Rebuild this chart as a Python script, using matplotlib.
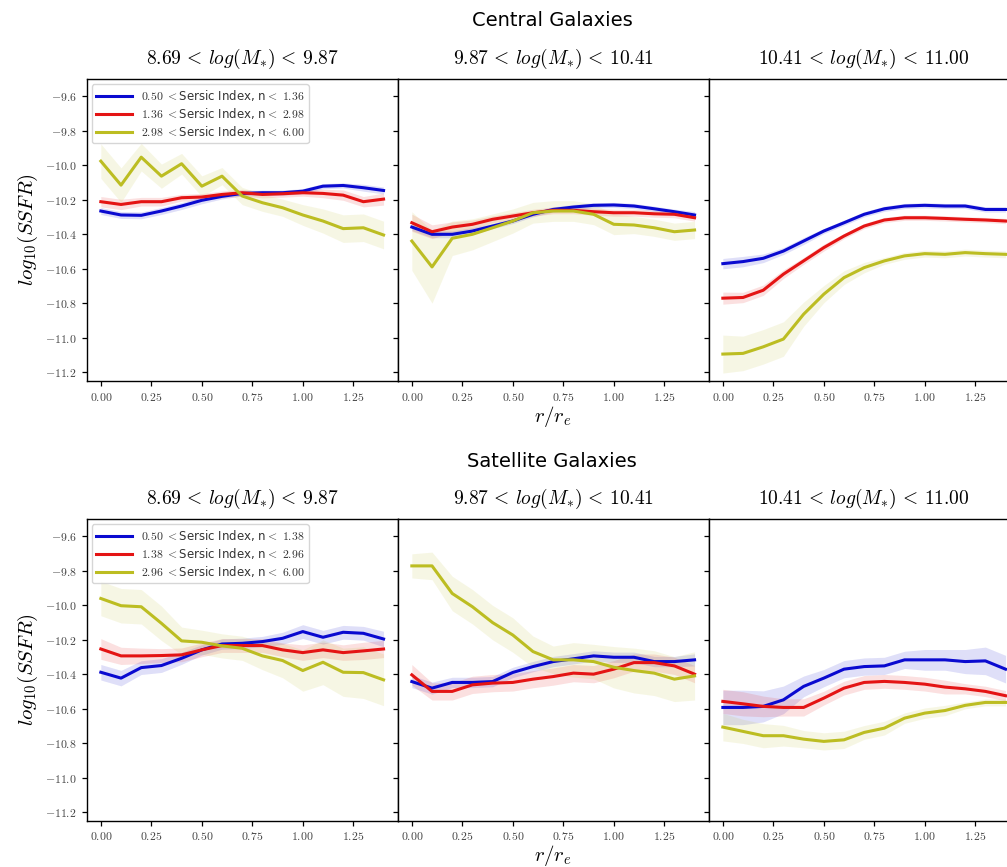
import matplotlib
matplotlib.use("Agg")
import matplotlib.pyplot as plt
from matplotlib.ticker import FuncFormatter, FixedLocator
import numpy as np

plt.rcParams['mathtext.fontset'] = 'cm'
plt.rcParams['font.family'] = ['DejaVu Sans']

# ---------------- data ----------------
r_bins = [0.0, 0.1, 0.2, 0.3, 0.4, 0.5, 0.6, 0.7, 0.8, 0.9, 1.0, 1.1, 1.2, 1.3, 1.4]

mass_titles = [r'$8.69\,<\,log(M_{*})\,<\,9.87$',
               r'$9.87\,<\,log(M_{*})\,<\,10.41$',
               r'$10.41\,<\,log(M_{*})\,<\,11.00$']
row_titles = ['Central Galaxies', 'Satellite Galaxies']

central_labels = [r'$0.50\ <$Sersic Index, n$<\ 1.36$',
                  r'$1.36\ <$Sersic Index, n$<\ 2.98$',
                  r'$2.98\ <$Sersic Index, n$<\ 6.00$']
satellite_labels = [r'$0.50\ <$Sersic Index, n$<\ 1.38$',
                    r'$1.38\ <$Sersic Index, n$<\ 2.96$',
                    r'$2.96\ <$Sersic Index, n$<\ 6.00$']

# Central, low mass
cen_low_blue = [-10.265, -10.288, -10.290, -10.265, -10.236, -10.203, -10.180, -10.163,
                -10.159, -10.159, -10.150, -10.121, -10.117, -10.130, -10.146]
cen_low_blue_err = [0.02, 0.02, 0.02, 0.02, 0.02, 0.02, 0.015, 0.015, 0.015, 0.015, 0.015, 0.015, 0.015, 0.02, 0.02]
cen_low_red = [-10.211, -10.227, -10.211, -10.211, -10.188, -10.184, -10.169, -10.159,
               -10.169, -10.165, -10.159, -10.163, -10.173, -10.211, -10.196]
cen_low_red_err = [0.03, 0.03, 0.025, 0.025, 0.02, 0.02, 0.02, 0.02, 0.02, 0.02, 0.02, 0.025, 0.03, 0.03, 0.035]
cen_low_yel = [-9.976, -10.115, -9.953, -10.063, -9.991, -10.121, -10.063, -10.178,
               -10.217, -10.246, -10.288, -10.323, -10.367, -10.362, -10.404]
cen_low_yel_err = [0.1, 0.1, 0.08, 0.07, 0.06, 0.06, 0.05, 0.05, 0.05, 0.05, 0.06, 0.07, 0.08, 0.08, 0.08]

# Central, mid mass
cen_mid_blue = [-10.358, -10.400, -10.400, -10.381, -10.352, -10.323, -10.284, -10.256,
                -10.242, -10.232, -10.230, -10.236, -10.252, -10.269, -10.288]
cen_mid_blue_err = [0.02, 0.02, 0.02, 0.02, 0.015, 0.015, 0.015, 0.015, 0.015, 0.015, 0.015, 0.015, 0.015, 0.015, 0.02]
cen_mid_red = [-10.333, -10.385, -10.358, -10.342, -10.313, -10.294, -10.275, -10.261,
               -10.261, -10.269, -10.275, -10.275, -10.281, -10.284, -10.304]
cen_mid_red_err = [0.05, 0.04, 0.03, 0.025, 0.02, 0.02, 0.02, 0.02, 0.02, 0.02, 0.02, 0.02, 0.02, 0.02, 0.02]
cen_mid_yel = [-10.439, -10.589, -10.423, -10.400, -10.362, -10.323, -10.275, -10.265,
               -10.265, -10.284, -10.342, -10.346, -10.362, -10.385, -10.375]
cen_mid_yel_err = [0.17, 0.21, 0.1, 0.09, 0.08, 0.07, 0.06, 0.06, 0.06, 0.06, 0.06, 0.05, 0.05, 0.05, 0.05]

# Central, high mass
cen_high_blue = [-10.570, -10.558, -10.539, -10.497, -10.439, -10.381, -10.333, -10.284,
                 -10.252, -10.236, -10.232, -10.236, -10.236, -10.256, -10.256]
cen_high_blue_err = [0.03, 0.03, 0.025, 0.02, 0.02, 0.015, 0.015, 0.015, 0.015, 0.015, 0.015, 0.015, 0.015, 0.015, 0.015]
cen_high_red = [-10.770, -10.766, -10.724, -10.631, -10.554, -10.477, -10.410, -10.352,
                -10.317, -10.304, -10.304, -10.308, -10.313, -10.317, -10.323]
cen_high_red_err = [0.035, 0.03, 0.03, 0.025, 0.02, 0.02, 0.015, 0.015, 0.015, 0.015, 0.015, 0.015, 0.015, 0.015, 0.015]
cen_high_yel = [-11.094, -11.090, -11.052, -11.007, -10.863, -10.747, -10.651, -10.593,
                -10.554, -10.525, -10.512, -10.516, -10.506, -10.512, -10.516]
cen_high_yel_err = [0.11, 0.1, 0.1, 0.1, 0.07, 0.05, 0.04, 0.03, 0.02, 0.02, 0.02, 0.02, 0.02, 0.02, 0.02]

# Satellite, low mass
sat_low_blue = [-10.389, -10.423, -10.362, -10.350, -10.308, -10.259, -10.225, -10.221,
                -10.211, -10.192, -10.153, -10.186, -10.157, -10.163, -10.196]
sat_low_blue_err = [0.045, 0.045, 0.04, 0.04, 0.035, 0.03, 0.03, 0.03, 0.03, 0.035, 0.04, 0.04, 0.04, 0.04, 0.045]
sat_low_red = [-10.254, -10.294, -10.294, -10.292, -10.288, -10.259, -10.234, -10.234,
               -10.234, -10.259, -10.275, -10.259, -10.275, -10.265, -10.254]
sat_low_red_err = [0.06, 0.05, 0.045, 0.04, 0.04, 0.04, 0.04, 0.04, 0.04, 0.04, 0.045, 0.045, 0.045, 0.05, 0.05]
sat_low_yel = [-9.961, -10.003, -10.009, -10.105, -10.207, -10.215, -10.236, -10.250,
               -10.294, -10.321, -10.379, -10.331, -10.389, -10.391, -10.433]
sat_low_yel_err = [0.1, 0.1, 0.1, 0.1, 0.08, 0.07, 0.07, 0.07, 0.08, 0.1, 0.12, 0.13, 0.14, 0.15, 0.15]

# Satellite, mid mass
sat_mid_blue = [-10.443, -10.481, -10.448, -10.448, -10.443, -10.390, -10.356, -10.327,
                -10.311, -10.294, -10.302, -10.302, -10.327, -10.327, -10.317]
sat_mid_blue_err = [0.035, 0.035, 0.03, 0.03, 0.03, 0.03, 0.03, 0.03, 0.03, 0.03, 0.03, 0.03, 0.03, 0.03, 0.035]
sat_mid_red = [-10.404, -10.500, -10.500, -10.462, -10.452, -10.448, -10.429, -10.414,
               -10.394, -10.400, -10.371, -10.333, -10.333, -10.352, -10.400]
sat_mid_red_err = [0.06, 0.05, 0.05, 0.05, 0.05, 0.05, 0.05, 0.05, 0.05, 0.05, 0.05, 0.05, 0.05, 0.05, 0.05]
sat_mid_yel = [-9.772, -9.772, -9.932, -10.009, -10.101, -10.173, -10.269, -10.317,
               -10.317, -10.327, -10.360, -10.379, -10.394, -10.429, -10.410]
sat_mid_yel_err = [0.07, 0.08, 0.1, 0.1, 0.1, 0.1, 0.09, 0.08, 0.1, 0.1, 0.12, 0.13, 0.13, 0.13, 0.14]

# Satellite, high mass
sat_high_blue = [-10.593, -10.593, -10.587, -10.549, -10.471, -10.423, -10.371, -10.356,
                 -10.352, -10.317, -10.317, -10.317, -10.327, -10.323, -10.371]
sat_high_blue_err = [0.1, 0.1, 0.09, 0.08, 0.06, 0.05, 0.05, 0.05, 0.05, 0.05, 0.06, 0.06, 0.07, 0.08, 0.08]
sat_high_red = [-10.558, -10.572, -10.587, -10.593, -10.593, -10.539, -10.481, -10.448,
                -10.442, -10.448, -10.458, -10.475, -10.485, -10.500, -10.525]
sat_high_red_err = [0.07, 0.07, 0.06, 0.05, 0.05, 0.04, 0.04, 0.04, 0.04, 0.04, 0.04, 0.04, 0.03, 0.03, 0.03]
sat_high_yel = [-10.707, -10.732, -10.757, -10.757, -10.777, -10.790, -10.781, -10.738,
                -10.713, -10.655, -10.626, -10.611, -10.581, -10.564, -10.564]
sat_high_yel_err = [0.08, 0.07, 0.07, 0.06, 0.05, 0.05, 0.05, 0.04, 0.04, 0.03, 0.03, 0.03, 0.02, 0.02, 0.02]

x_ticks = [0.00, 0.25, 0.50, 0.75, 1.00, 1.25]
y_ticks = [-9.6, -9.8, -10.0, -10.2, -10.4, -10.6, -10.8, -11.0, -11.2]

panels = [
    [[(cen_low_blue, cen_low_blue_err), (cen_low_red, cen_low_red_err), (cen_low_yel, cen_low_yel_err)],
     [(cen_mid_blue, cen_mid_blue_err), (cen_mid_red, cen_mid_red_err), (cen_mid_yel, cen_mid_yel_err)],
     [(cen_high_blue, cen_high_blue_err), (cen_high_red, cen_high_red_err), (cen_high_yel, cen_high_yel_err)]],
    [[(sat_low_blue, sat_low_blue_err), (sat_low_red, sat_low_red_err), (sat_low_yel, sat_low_yel_err)],
     [(sat_mid_blue, sat_mid_blue_err), (sat_mid_red, sat_mid_red_err), (sat_mid_yel, sat_mid_yel_err)],
     [(sat_high_blue, sat_high_blue_err), (sat_high_red, sat_high_red_err), (sat_high_yel, sat_high_yel_err)]],
]
legend_labels = [central_labels, satellite_labels]

colors = ['#0a0ad0', '#e41414', '#bcbd22']
band_alpha = [0.13, 0.13, 0.12]

# ---------------- figure ----------------
W, H = 1007, 867
fig = plt.figure(figsize=(W / 100, H / 100), dpi=100)

ax_left = 86.7 / W
ax_w = 311.0 / W
row_tops = [79.0, 519.0]
row_bots = [381.0, 820.7]

r = np.array(r_bins)
for row in range(2):
    bottom = 1 - row_bots[row] / H
    height = (row_bots[row] - row_tops[row]) / H
    for col in range(3):
        ax = fig.add_axes([ax_left + col * ax_w, bottom, ax_w, height])
        for k, (vals, errs) in enumerate(panels[row][col]):
            v = np.array(vals)
            e = np.array(errs)
            ax.fill_between(r, v - e, v + e, color=colors[k], alpha=band_alpha[k], lw=0)
            ax.plot(r, v, color=colors[k], lw=2.2,
                    label=legend_labels[row][k] if col == 0 else None)
        ax.set_xlim(-0.07, 1.47)
        ax.set_ylim(-11.25, -9.5)
        ax.xaxis.set_major_locator(FixedLocator(x_ticks))
        ax.yaxis.set_major_locator(FixedLocator(y_ticks))
        ax.xaxis.set_major_formatter(FuncFormatter(lambda v, p: r'$%.2f$' % v))
        ax.yaxis.set_major_formatter(FuncFormatter(lambda v, p: r'$%.1f$' % v))
        ax.tick_params(axis='both', direction='out', length=3.5, width=0.9, labelsize=8.5, colors='black')
        ax.tick_params(axis='both', labelcolor='#444444')
        if col > 0:
            ax.tick_params(axis='y', labelleft=False)
        for s in ax.spines.values():
            s.set_linewidth(1.0)
        ax.set_title(mass_titles[col], fontsize=14, pad=11)
        if col == 0:
            ax.set_ylabel(r'$log_{10}(SSFR)$', fontsize=15, labelpad=4)
            leg = ax.legend(loc='upper left', fontsize=8.5, handlelength=3.0, borderaxespad=0.45,
                            labelspacing=0.25, borderpad=0.35, framealpha=0.8, edgecolor='#cccccc')
            for t in leg.get_texts():
                t.set_color('#333333')
        if col == 1:
            ax.set_xlabel(r'$r/r_e$', fontsize=15, labelpad=0)

fig.text(552 / W, 1 - 20 / H, row_titles[0], ha='center', va='center', fontsize=14)
fig.text(552 / W, 1 - 462 / H, row_titles[1], ha='center', va='center', fontsize=14)

fig.savefig('out.png', dpi=100)
